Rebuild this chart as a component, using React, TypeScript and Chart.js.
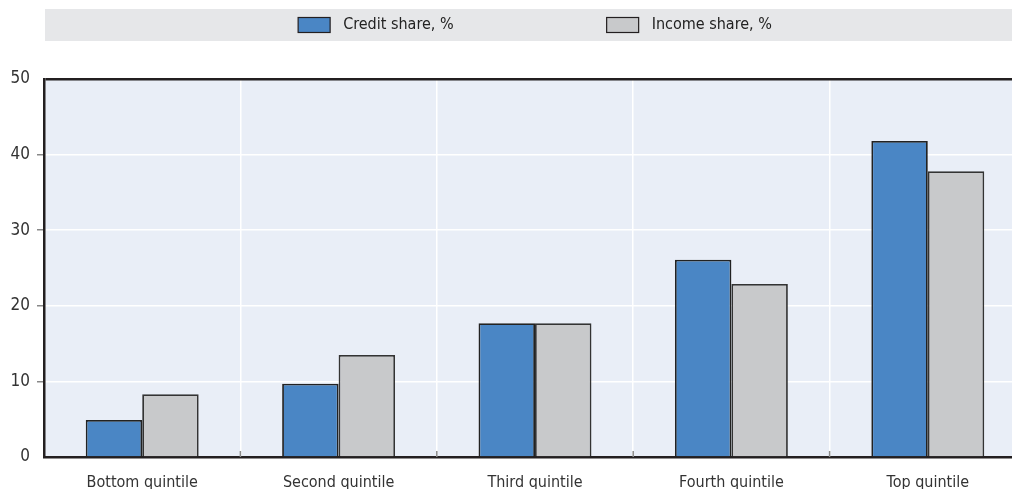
import React, { useEffect, useRef } from "react";
import { Chart, registerables } from "chart.js";

Chart.register(...registerables);

const categories = ["Bottom quintile", "Second quintile", "Third quintile", "Fourth quintile", "Top quintile"];
const creditShare = [4.9, 9.7, 17.7, 26.1, 41.8];
const incomeShare = [8.3, 13.5, 17.7, 22.9, 37.8];
const seriesNames = ["Credit share, %", "Income share, %"];
const seriesColors = ["#4a86c5", "#c8c9cb"];
const yMin = 0;
const yMax = 50;
const yStep = 10;

const FONT = '"DejaVu Sans Condensed", "Liberation Sans Narrow", sans-serif';
const DARK = "#231f20";

const backgroundPlugin = {
  id: "bgPlugin",
  beforeDraw(chart: any) {
    const { ctx, chartArea } = chart;
    ctx.save();
    ctx.fillStyle = "#e9eef7";
    ctx.fillRect(chartArea.left, chartArea.top, chartArea.right - chartArea.left, chartArea.bottom - chartArea.top);
    ctx.restore();
  },
  afterDatasetsDraw(chart: any) {
    const { ctx, chartArea } = chart;
    const x = chart.scales.x;
    ctx.save();
    ctx.strokeStyle = "#8a8a8a";
    ctx.lineWidth = 1.5;
    for (let i = 1; i < categories.length; i++) {
      const px = (x.getPixelForValue(i - 1) + x.getPixelForValue(i)) / 2;
      ctx.beginPath();
      ctx.moveTo(px, chartArea.bottom);
      ctx.lineTo(px, chartArea.bottom - 6);
      ctx.stroke();
    }
    ctx.restore();
  },
  afterDraw(chart: any) {
    const { ctx, width } = chart;
    ctx.save();
    ctx.fillStyle = "#e6e7e9";
    ctx.fillRect(45, 9, width - 45, 32);
    ctx.font = "16px " + FONT;
    ctx.textBaseline = "middle";
    const boxW = 32;
    const boxH = 15;
    const gapText = 13;
    const gapItems = 153;
    const items = chart.data.datasets.map((d: any) => ({
      label: d.label,
      color: d.backgroundColor,
      w: boxW + gapText + ctx.measureText(d.label).width,
    }));
    const total = items.reduce((s: number, it: any) => s + it.w, 0) + gapItems * (items.length - 1);
    let x = 535 - total / 2;
    const cy = 25;
    items.forEach((it: any) => {
      ctx.fillStyle = it.color;
      ctx.fillRect(x, cy - boxH / 2, boxW, boxH);
      ctx.strokeStyle = DARK;
      ctx.lineWidth = 1.2;
      ctx.strokeRect(x, cy - boxH / 2, boxW, boxH);
      ctx.fillStyle = "#222";
      ctx.textAlign = "left";
      ctx.fillText(it.label, x + boxW + gapText, cy);
      x += it.w + gapItems;
    });
    ctx.restore();
  },
};

export default function App() {
  const ref = useRef<HTMLCanvasElement>(null);
  useEffect(() => {
    if (!ref.current) return;
    const chart = new Chart(ref.current, {
      type: "bar",
      data: {
        labels: categories,
        datasets: [
          {
            label: seriesNames[0],
            data: creditShare,
            backgroundColor: seriesColors[0],
            borderColor: "#222",
            borderWidth: 1.8,
            categoryPercentage: 0.575,
            barPercentage: 1,
          },
          {
            label: seriesNames[1],
            data: incomeShare,
            backgroundColor: seriesColors[1],
            borderColor: "#333",
            borderWidth: 1.8,
            categoryPercentage: 0.575,
            barPercentage: 1,
          },
        ],
      },
      options: {
        animation: false,
        responsive: false,
        devicePixelRatio: 1,
        layout: { padding: { top: 79, right: 4, left: 0, bottom: 0 } },
        plugins: {
          legend: { display: false },
          tooltip: { enabled: false },
        },
        scales: {
          x: {
            grid: {
              offset: true,
              color: "#ffffff",
              lineWidth: 1.5,
              drawTicks: false,
            },
            border: { display: true, color: DARK, width: 2.5 },
            ticks: {
              color: "#333",
              font: { family: FONT, size: 16 },
              padding: 16,
              maxRotation: 0,
              autoSkip: false,
            },
            afterFit: (scale: any) => {
              scale.height = 53;
            },
          },
          y: {
            min: yMin,
            max: yMax,
            ticks: {
              stepSize: yStep,
              color: "#333",
              font: { family: FONT, size: 17 },
              padding: 7,
            },
            grid: {
              color: (c: any) => (c.tick && c.tick.value === yMax ? DARK : "#ffffff"),
              lineWidth: (c: any) => (c.tick && c.tick.value === yMax ? 2.5 : 1.5),
              tickColor: (c: any) =>
                c.tick && (c.tick.value === yMax || c.tick.value === yMin) ? "rgba(0,0,0,0)" : "#888",
              tickLength: 7,
            },
            border: { display: true, color: DARK, width: 2.5 },
            afterFit: (scale: any) => {
              scale.width = 44;
            },
          },
        },
      },
      plugins: [backgroundPlugin],
    });
    return () => chart.destroy();
  }, []);
  return (
    <div style={{ position: "absolute", left: 0, top: 0, width: 1012, height: 489, overflow: "hidden", background: "#fff" }}>
      <canvas ref={ref} width={1030} height={510} style={{ display: "block" }} />
    </div>
  );
}
